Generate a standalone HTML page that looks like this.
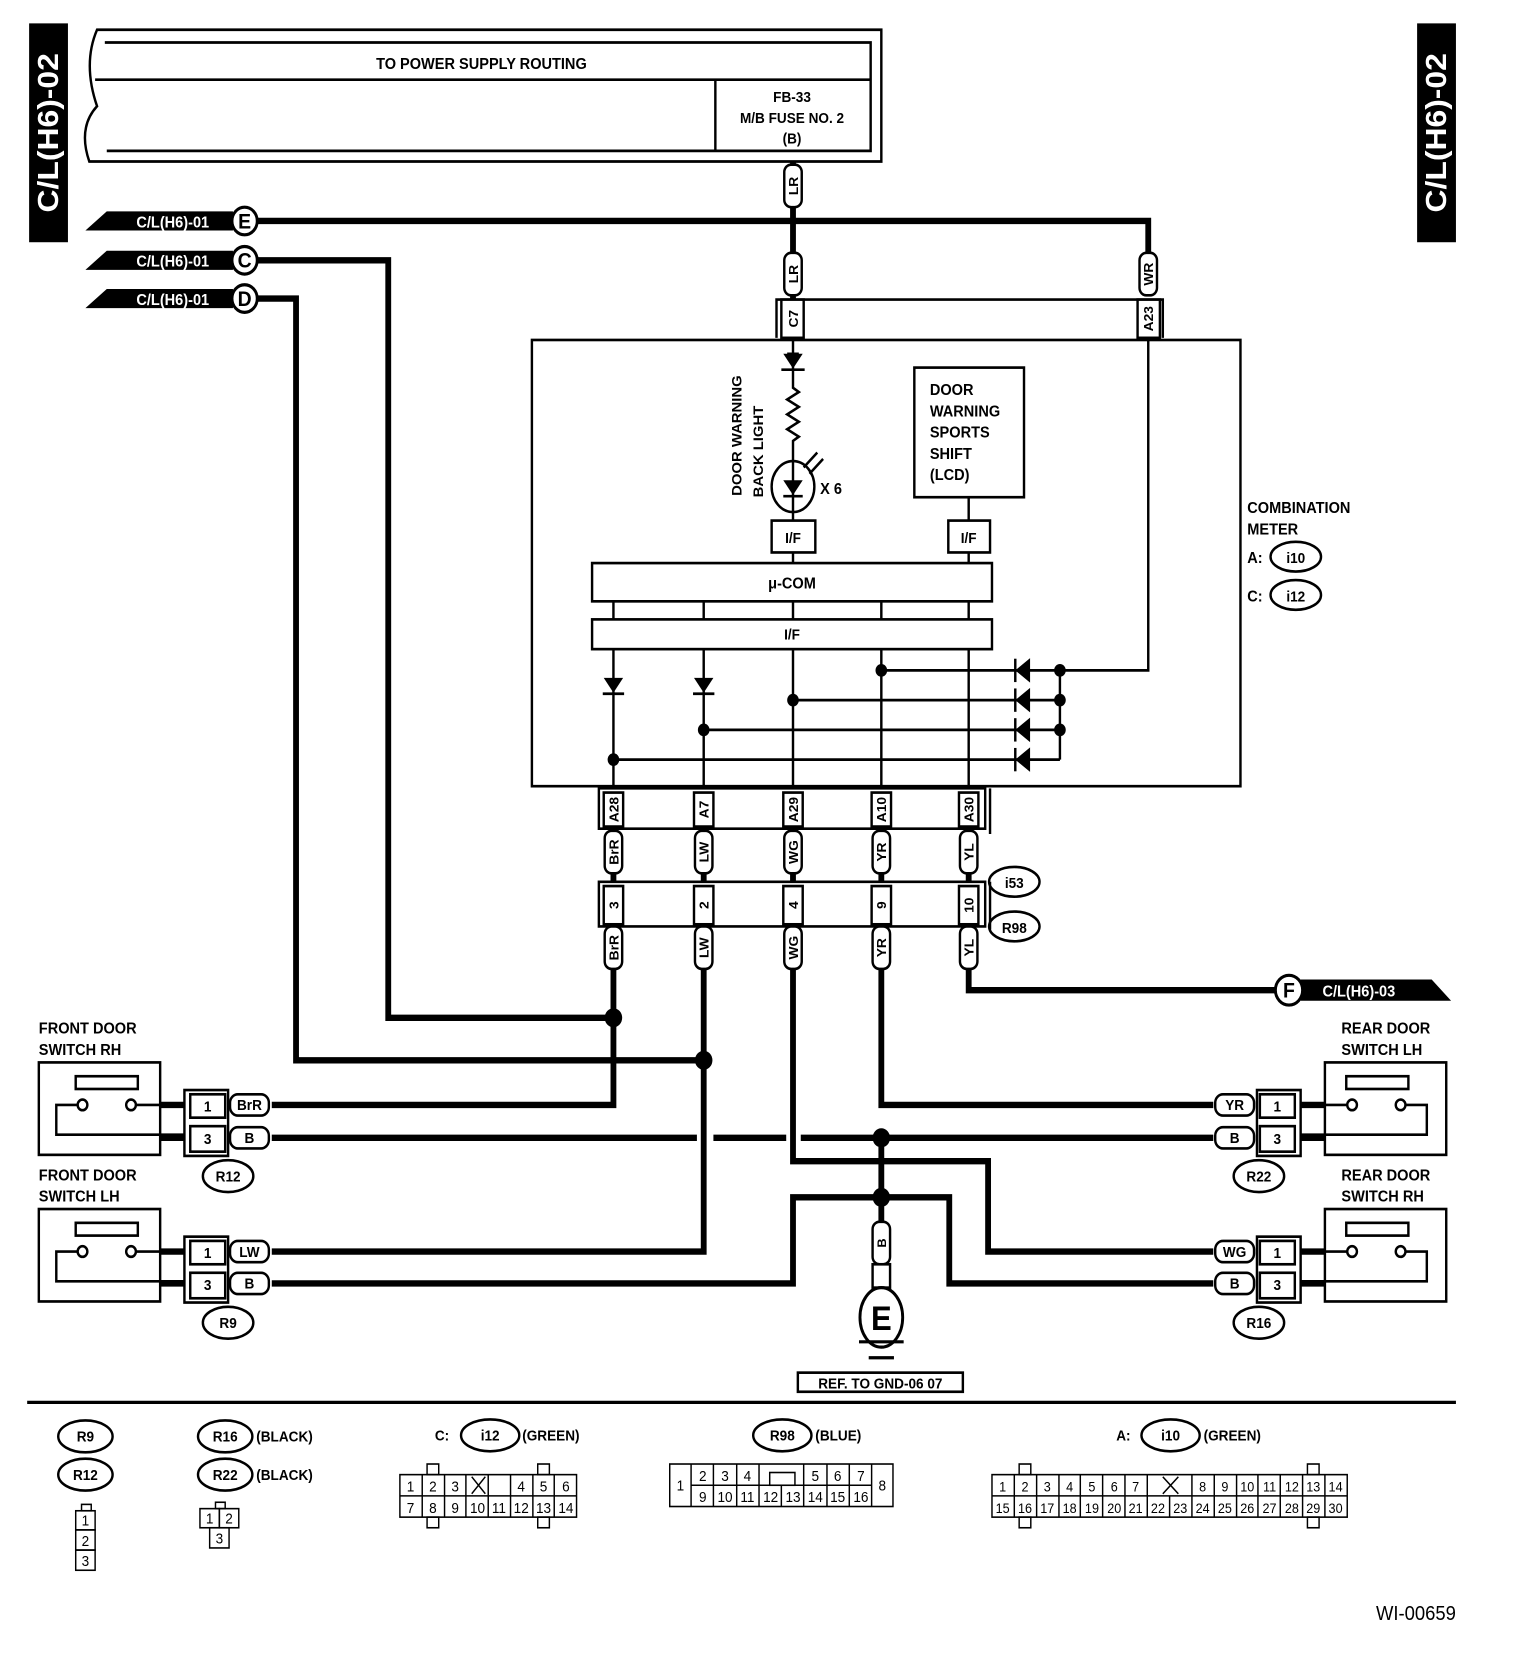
<!DOCTYPE html>
<html><head><meta charset="utf-8"><style>
html,body{margin:0;padding:0;background:#fff;}
svg{display:block;}
text{font-family:"Liberation Sans",Arial,sans-serif;font-weight:bold;fill:#000;}
</style></head><body>
<svg width="1520" height="1668" viewBox="0 0 1566 1570" preserveAspectRatio="none" xmlns="http://www.w3.org/2000/svg">
<defs>
<g id="vl"><rect x="-9" y="-20" width="18" height="40" rx="7" fill="#fff" stroke="#000" stroke-width="2.5"/></g>
<g id="hl"><rect x="-20" y="-10" width="40" height="20" rx="8" fill="#fff" stroke="#000" stroke-width="2.5"/></g>
</defs>
<rect x="30" y="22" width="40" height="206" fill="#000"/>
<text transform="translate(60,125) rotate(-90)" text-anchor="middle" font-size="30" style="fill:#fff">C/L(H6)-02</text>
<rect x="1460" y="22" width="40" height="206" fill="#000"/>
<text transform="translate(1490,125) rotate(-90)" text-anchor="middle" font-size="30" style="fill:#fff">C/L(H6)-02</text>

<g fill="none" stroke="#000" stroke-width="2.5">
<path d="M100,28 H908 V152 H92 Q80,120 100,100 Q85,60 100,28Z"/>
<path d="M108,40 H897 V142 H110"/>
<path d="M98,75 H897"/>
<path d="M737,75 V142"/>
</g>
<text x="496" y="65" text-anchor="middle" font-size="15">TO POWER SUPPLY ROUTING</text>
<text x="816" y="96" text-anchor="middle" font-size="14">FB-33</text>
<text x="816" y="116" text-anchor="middle" font-size="14">M/B FUSE NO. 2</text>
<text x="816" y="135" text-anchor="middle" font-size="14">(B)</text>

<g>
<polygon points="88,217 110,199 240,199 240,217" fill="#000"/>
<text x="178" y="214" text-anchor="middle" font-size="15" style="fill:#fff">C/L(H6)-01</text>
<circle cx="252" cy="208" r="13" fill="#fff" stroke="#000" stroke-width="3"/><text x="252" y="215" text-anchor="middle" font-size="20">E</text>
<polygon points="88,254 110,236 240,236 240,254" fill="#000"/>
<text x="178" y="251" text-anchor="middle" font-size="15" style="fill:#fff">C/L(H6)-01</text>
<circle cx="252" cy="245" r="13" fill="#fff" stroke="#000" stroke-width="3"/><text x="252" y="252" text-anchor="middle" font-size="20">C</text>
<polygon points="88,290 110,272 240,272 240,290" fill="#000"/>
<text x="178" y="287" text-anchor="middle" font-size="15" style="fill:#fff">C/L(H6)-01</text>
<circle cx="252" cy="281" r="13" fill="#fff" stroke="#000" stroke-width="3"/><text x="252" y="288" text-anchor="middle" font-size="20">D</text>
</g>

<g fill="none" stroke="#000" stroke-width="6" stroke-linejoin="miter">
<path d="M265,208 H1183 V245"/>
<path d="M817,152 V320"/>
<path d="M265,245 H400 V958 H632"/>
<path d="M265,281 H305 V998 H725"/>
<path d="M632,910 V1040 H280"/>
<path d="M725,910 V1178 H280"/>
<path d="M817,910 V1093 H1018 V1178 H1250"/>
<path d="M908,910 V1040 H1250"/>
<path d="M998,910 V932 H1315"/>
<path d="M280,1071 H718 M735,1071 H810 M825,1071 H1250"/>
<path d="M908,1071 V1127"/>
<path d="M908,1127 V1160"/>
<path d="M280,1208 H817 V1127 H978 V1208 H1250"/>
</g>
<g fill="#000">
<circle cx="632" cy="958" r="9"/><circle cx="725" cy="998" r="9"/>
<circle cx="908" cy="1071" r="9"/><circle cx="908" cy="1127" r="9"/>
</g>

<use href="#vl" x="817" y="175"/><text transform="translate(817,175) rotate(-90)" text-anchor="middle" dy="5" font-size="13">LR</text>
<use href="#vl" x="817" y="258"/><text transform="translate(817,258) rotate(-90)" text-anchor="middle" dy="5" font-size="13">LR</text>
<use href="#vl" x="1183" y="258"/><text transform="translate(1183,258) rotate(-90)" text-anchor="middle" dy="5" font-size="13">WR</text>

<g fill="none" stroke="#000" stroke-width="2.5">
<path d="M800,318 V282 H1198 V318"/>
<rect x="805" y="282" width="23" height="36" fill="#fff"/>
<rect x="1172" y="282" width="23" height="36" fill="#fff"/>
</g>
<text transform="translate(817,300) rotate(-90)" text-anchor="middle" dy="5" font-size="13">C7</text>
<text transform="translate(1183,300) rotate(-90)" text-anchor="middle" dy="5" font-size="13">A23</text>

<rect x="548" y="320" width="730" height="420" fill="none" stroke="#000" stroke-width="2.5"/>
<g fill="none" stroke="#000" stroke-width="2.5">
<path d="M817,320 V365 l6,4 -12,7 12,7 -12,7 12,7 -12,7 12,7 -6,4 V490"/>
<path d="M817,520 V530"/>
<rect x="795" y="490" width="45" height="30"/>
<rect x="942" y="346" width="113" height="122"/>
<path d="M998,468 V490 M998,520 V530"/>
<rect x="977" y="490" width="43" height="30"/>
<rect x="610" y="530" width="412" height="36"/>
<rect x="610" y="583" width="412" height="28"/>
<path d="M632,566 V583 M725,566 V583 M817,566 V583 M908,566 V583 M998,566 V583"/>
<path d="M632,611 V742 M725,611 V742 M817,611 V742 M908,611 V742 M998,611 V742"/>
<path d="M908,631 H1183 V318"/>
<path d="M817,659 H1092 M725,687 H1092 M632,715 H1092"/>
<path d="M1092,631 V715"/>
<ellipse cx="817" cy="458" rx="22" ry="24"/>
<path d="M828,440 l14,-14 M834,446 l14,-14"/>
<path d="M811,333 h12 M805,348 h24"/>
</g>
<polygon points="807,333 827,333 817,347" fill="#000"/>
<polygon points="807,452 827,452 817,466" fill="#000"/><path d="M807,467 H827" stroke="#000" stroke-width="2.5"/>
<polygon points="622,638 642,638 632,652" fill="#000"/><path d="M621,653 H643" stroke="#000" stroke-width="2.5"/>
<polygon points="715,638 735,638 725,652" fill="#000"/><path d="M714,653 H736" stroke="#000" stroke-width="2.5"/>
<g fill="#000" stroke="#000" stroke-width="2.5">
<polygon points="1048,631 1060,622 1060,640"/><path d="M1046,620 V642" fill="none"/>
<polygon points="1048,659 1060,650 1060,668"/><path d="M1046,648 V670" fill="none"/>
<polygon points="1048,687 1060,678 1060,696"/><path d="M1046,676 V698" fill="none"/>
<polygon points="1048,715 1060,706 1060,724"/><path d="M1046,704 V726" fill="none"/>
</g>
<g fill="#000">
<circle cx="908" cy="631" r="6"/><circle cx="817" cy="659" r="6"/><circle cx="725" cy="687" r="6"/><circle cx="632" cy="715" r="6"/>
<circle cx="1092" cy="631" r="6"/><circle cx="1092" cy="659" r="6"/><circle cx="1092" cy="687" r="6"/>
</g>
<text x="845" y="465" font-size="15">X 6</text>
<text transform="translate(764,410) rotate(-90)" text-anchor="middle" font-size="14">DOOR WARNING</text>
<text transform="translate(786,425) rotate(-90)" text-anchor="middle" font-size="14">BACK LIGHT</text>
<g font-size="15"><text x="958" y="372">DOOR</text><text x="958" y="392">WARNING</text><text x="958" y="412">SPORTS</text><text x="958" y="432">SHIFT</text><text x="958" y="452">(LCD)</text></g>
<text x="817" y="511" text-anchor="middle" font-size="14">I/F</text>
<text x="998" y="511" text-anchor="middle" font-size="14">I/F</text>
<text x="816" y="554" text-anchor="middle" font-size="15">μ-COM</text>
<text x="816" y="602" text-anchor="middle" font-size="14">I/F</text>
<text x="1285" y="483" font-size="15">COMBINATION</text>
<text x="1285" y="503" font-size="15">METER</text>
<text x="1285" y="530" font-size="15">A:</text>
<ellipse cx="1335" cy="524" rx="26" ry="14" fill="none" stroke="#000" stroke-width="2.5"/><text x="1335" y="530" text-anchor="middle" font-size="14">i10</text>
<text x="1285" y="566" font-size="15">C:</text>
<ellipse cx="1335" cy="560" rx="26" ry="14" fill="none" stroke="#000" stroke-width="2.5"/><text x="1335" y="566" text-anchor="middle" font-size="14">i12</text>

<g fill="none" stroke="#000" stroke-width="2.5">
<path d="M617,742 H1015 V780 H617Z M1020,742 V785"/>
<path d="M617,830 H1015 V872 H617Z M1020,830 V875"/>
</g>
<g stroke="#000" stroke-width="6"><path d="M632,780 V830 M725,780 V830 M817,780 V830 M908,780 V830 M998,780 V830 M632,872 V912 M725,872 V912 M817,872 V912 M908,872 V912 M998,872 V912"/></g>
<g fill="#fff" stroke="#000" stroke-width="2.5">
<rect x="622" y="746" width="20" height="32"/><rect x="715" y="746" width="20" height="32"/><rect x="807" y="746" width="20" height="32"/><rect x="898" y="746" width="20" height="32"/><rect x="988" y="746" width="20" height="32"/>
<rect x="622" y="834" width="20" height="36"/><rect x="715" y="834" width="20" height="36"/><rect x="807" y="834" width="20" height="36"/><rect x="898" y="834" width="20" height="36"/><rect x="988" y="834" width="20" height="36"/>
</g>
<g font-size="13">
<text transform="translate(632,762) rotate(-90)" text-anchor="middle" dy="5">A28</text>
<text transform="translate(725,762) rotate(-90)" text-anchor="middle" dy="5">A7</text>
<text transform="translate(817,762) rotate(-90)" text-anchor="middle" dy="5">A29</text>
<text transform="translate(908,762) rotate(-90)" text-anchor="middle" dy="5">A10</text>
<text transform="translate(998,762) rotate(-90)" text-anchor="middle" dy="5">A30</text>
<text transform="translate(632,852) rotate(-90)" text-anchor="middle" dy="5">3</text>
<text transform="translate(725,852) rotate(-90)" text-anchor="middle" dy="5">2</text>
<text transform="translate(817,852) rotate(-90)" text-anchor="middle" dy="5">4</text>
<text transform="translate(908,852) rotate(-90)" text-anchor="middle" dy="5">9</text>
<text transform="translate(998,852) rotate(-90)" text-anchor="middle" dy="5">10</text>
</g>
<use href="#vl" x="632" y="802"/><use href="#vl" x="725" y="802"/><use href="#vl" x="817" y="802"/><use href="#vl" x="908" y="802"/><use href="#vl" x="998" y="802"/>
<use href="#vl" x="632" y="892"/><use href="#vl" x="725" y="892"/><use href="#vl" x="817" y="892"/><use href="#vl" x="908" y="892"/><use href="#vl" x="998" y="892"/>
<g font-size="13">
<text transform="translate(632,802) rotate(-90)" text-anchor="middle" dy="5">BrR</text>
<text transform="translate(725,802) rotate(-90)" text-anchor="middle" dy="5">LW</text>
<text transform="translate(817,802) rotate(-90)" text-anchor="middle" dy="5">WG</text>
<text transform="translate(908,802) rotate(-90)" text-anchor="middle" dy="5">YR</text>
<text transform="translate(998,802) rotate(-90)" text-anchor="middle" dy="5">YL</text>
<text transform="translate(632,892) rotate(-90)" text-anchor="middle" dy="5">BrR</text>
<text transform="translate(725,892) rotate(-90)" text-anchor="middle" dy="5">LW</text>
<text transform="translate(817,892) rotate(-90)" text-anchor="middle" dy="5">WG</text>
<text transform="translate(908,892) rotate(-90)" text-anchor="middle" dy="5">YR</text>
<text transform="translate(998,892) rotate(-90)" text-anchor="middle" dy="5">YL</text>
</g>
<ellipse cx="1045" cy="830" rx="26" ry="14" fill="none" stroke="#000" stroke-width="2.5"/><text x="1045" y="836" text-anchor="middle" font-size="14">i53</text>
<ellipse cx="1045" cy="872" rx="26" ry="14" fill="none" stroke="#000" stroke-width="2.5"/><text x="1045" y="878" text-anchor="middle" font-size="14">R98</text>

<polygon points="1340,922 1475,922 1495,942 1340,942" fill="#000"/>
<text x="1400" y="938" text-anchor="middle" font-size="15" style="fill:#fff">C/L(H6)-03</text>
<circle cx="1328" cy="932" r="14" fill="#fff" stroke="#000" stroke-width="3"/><text x="1328" y="939" text-anchor="middle" font-size="20">F</text>

<g font-size="15">
<text x="40" y="973">FRONT DOOR</text><text x="40" y="993">SWITCH RH</text>
<text x="40" y="1111">FRONT DOOR</text><text x="40" y="1131">SWITCH LH</text>
<text x="1382" y="973">REAR DOOR</text><text x="1382" y="993">SWITCH LH</text>
<text x="1382" y="1111">REAR DOOR</text><text x="1382" y="1131">SWITCH RH</text>
</g>
<g fill="none" stroke="#000" stroke-width="2.5">
<rect x="40" y="1000" width="125" height="87"/><rect x="78" y="1013" width="64" height="12"/>
<circle cx="85" cy="1040" r="5"/><circle cx="135" cy="1040" r="5"/><path d="M80,1040 H58 V1068 H190 M140,1040 H190"/>
<rect x="40" y="1138" width="125" height="87"/><rect x="78" y="1151" width="64" height="12"/>
<circle cx="85" cy="1178" r="5"/><circle cx="135" cy="1178" r="5"/><path d="M80,1178 H58 V1206 H190 M140,1178 H190"/>
<rect x="1365" y="1000" width="125" height="87"/><rect x="1387" y="1013" width="64" height="12"/>
<circle cx="1393" cy="1040" r="5"/><circle cx="1443" cy="1040" r="5"/><path d="M1448,1040 H1470 V1068 H1340 M1388,1040 H1340"/>
<rect x="1365" y="1138" width="125" height="87"/><rect x="1387" y="1151" width="64" height="12"/>
<circle cx="1393" cy="1178" r="5"/><circle cx="1443" cy="1178" r="5"/><path d="M1448,1178 H1470 V1206 H1340 M1388,1178 H1340"/>
</g>
<g stroke="#000" stroke-width="6"><path d="M165,1040 H190 M165,1071 H190 M165,1178 H190 M165,1208 H190 M1340,1040 H1365 M1340,1071 H1365 M1340,1178 H1365 M1340,1208 H1365"/></g>
<g fill="#fff" stroke="#000" stroke-width="2.5">
<rect x="190" y="1026" width="45" height="62"/><rect x="196" y="1030" width="36" height="22"/><rect x="196" y="1060" width="36" height="24"/>
<rect x="190" y="1164" width="45" height="62"/><rect x="196" y="1168" width="36" height="22"/><rect x="196" y="1198" width="36" height="24"/>
<rect x="1295" y="1026" width="45" height="62"/><rect x="1298" y="1030" width="36" height="22"/><rect x="1298" y="1060" width="36" height="24"/>
<rect x="1295" y="1164" width="45" height="62"/><rect x="1298" y="1168" width="36" height="22"/><rect x="1298" y="1198" width="36" height="24"/>
</g>
<g font-size="14" text-anchor="middle">
<text x="214" y="1046">1</text><text x="214" y="1077">3</text><text x="214" y="1184">1</text><text x="214" y="1214">3</text>
<text x="1316" y="1046">1</text><text x="1316" y="1077">3</text><text x="1316" y="1184">1</text><text x="1316" y="1214">3</text>
</g>
<use href="#hl" x="257" y="1040"/><use href="#hl" x="257" y="1071"/><use href="#hl" x="257" y="1178"/><use href="#hl" x="257" y="1208"/>
<use href="#hl" x="1272" y="1040"/><use href="#hl" x="1272" y="1071"/><use href="#hl" x="1272" y="1178"/><use href="#hl" x="1272" y="1208"/>
<g font-size="14" text-anchor="middle">
<text x="257" y="1045">BrR</text><text x="257" y="1076">B</text><text x="257" y="1183">LW</text><text x="257" y="1213">B</text>
<text x="1272" y="1045">YR</text><text x="1272" y="1076">B</text><text x="1272" y="1183">WG</text><text x="1272" y="1213">B</text>
</g>
<g fill="none" stroke="#000" stroke-width="2.5">
<ellipse cx="235" cy="1107" rx="26" ry="15"/><ellipse cx="235" cy="1245" rx="26" ry="15"/>
<ellipse cx="1297" cy="1107" rx="26" ry="15"/><ellipse cx="1297" cy="1245" rx="26" ry="15"/>
</g>
<g font-size="14" text-anchor="middle">
<text x="235" y="1112">R12</text><text x="235" y="1250">R9</text><text x="1297" y="1112">R22</text><text x="1297" y="1250">R16</text>
</g>

<rect x="899" y="1150" width="18" height="40" rx="7" fill="#fff" stroke="#000" stroke-width="2.5"/>
<text transform="translate(908,1170) rotate(-90)" text-anchor="middle" dy="5" font-size="12">B</text>
<rect x="899" y="1190" width="18" height="22" fill="#fff" stroke="#000" stroke-width="2.5"/>
<ellipse cx="908" cy="1240" rx="22" ry="28" fill="#fff" stroke="#000" stroke-width="3"/>
<text x="908" y="1252" text-anchor="middle" font-size="32">E</text>
<path d="M885,1263 H931 M895,1278 H921 M900,1293 H916" stroke="#000" stroke-width="3"/>
<rect x="822" y="1292" width="170" height="18" fill="#fff" stroke="#000" stroke-width="2.5"/>
<text x="907" y="1307" text-anchor="middle" font-size="14">REF. TO GND-06 07</text>

<path d="M28,1320 H1500" stroke="#000" stroke-width="3"/>

<g fill="none" stroke="#000" stroke-width="2.5">
<ellipse cx="88" cy="1352" rx="28" ry="15"/><ellipse cx="88" cy="1388" rx="28" ry="15"/>
<ellipse cx="232" cy="1352" rx="28" ry="15"/><ellipse cx="232" cy="1388" rx="28" ry="15"/>
<ellipse cx="505" cy="1351" rx="30" ry="15"/><ellipse cx="806" cy="1351" rx="30" ry="15"/><ellipse cx="1206" cy="1351" rx="30" ry="15"/>
</g>
<g font-size="14">
<text x="88" y="1357" text-anchor="middle">R9</text><text x="88" y="1393" text-anchor="middle">R12</text>
<text x="232" y="1357" text-anchor="middle">R16</text><text x="232" y="1393" text-anchor="middle">R22</text>
<text x="264" y="1357">(BLACK)</text><text x="264" y="1393">(BLACK)</text>
<text x="448" y="1356">C:</text><text x="505" y="1356" text-anchor="middle">i12</text><text x="538" y="1356">(GREEN)</text>
<text x="806" y="1356" text-anchor="middle">R98</text><text x="840" y="1356">(BLUE)</text>
<text x="1150" y="1356">A:</text><text x="1206" y="1356" text-anchor="middle">i10</text><text x="1240" y="1356">(GREEN)</text>
</g>
<g fill="none" stroke="#000" stroke-width="1.5">
<rect x="84" y="1416" width="10" height="6"/>
<rect x="78" y="1422" width="20" height="18"/><rect x="78" y="1440" width="20" height="19"/><rect x="78" y="1459" width="20" height="19"/>
<rect x="222" y="1414" width="10" height="6"/>
<rect x="206" y="1420" width="20" height="18"/><rect x="226" y="1420" width="20" height="18"/><rect x="216" y="1438" width="20" height="19"/>
</g>
<g font-size="14" text-anchor="middle">
<text x="88" y="1436" style="font-weight:normal">1</text><text x="88" y="1455" style="font-weight:normal">2</text><text x="88" y="1474" style="font-weight:normal">3</text>
<text x="216" y="1434" style="font-weight:normal">1</text><text x="236" y="1434" style="font-weight:normal">2</text><text x="226" y="1453" style="font-weight:normal">3</text>
</g>

<g fill="none" stroke="#000" stroke-width="1.5">
<rect x="412" y="1388" width="182" height="40"/>
<path d="M412,1408 H594"/>
<path d="M435,1388 V1428 M458,1388 V1428 M480,1408 V1428 M503,1408 V1428 M526,1388 V1428 M549,1388 V1428 M571,1388 V1428"/>
<path d="M480,1388 V1408 M503,1388 V1408"/>
<path d="M486,1390 l14,16 M500,1390 l-14,16"/>
<rect x="440" y="1378" width="12" height="10"/><rect x="440" y="1428" width="12" height="10"/>
<rect x="554" y="1378" width="12" height="10"/><rect x="554" y="1428" width="12" height="10"/>
</g>
<g font-size="14" text-anchor="middle">
<text x="423" y="1404" style="font-weight:normal">1</text><text x="446" y="1404" style="font-weight:normal">2</text><text x="469" y="1404" style="font-weight:normal">3</text>
<text x="537" y="1404" style="font-weight:normal">4</text><text x="560" y="1404" style="font-weight:normal">5</text><text x="583" y="1404" style="font-weight:normal">6</text>
<text x="423" y="1424" style="font-weight:normal">7</text><text x="446" y="1424" style="font-weight:normal">8</text><text x="469" y="1424" style="font-weight:normal">9</text><text x="492" y="1424" style="font-weight:normal">10</text><text x="514" y="1424" style="font-weight:normal">11</text><text x="537" y="1424" style="font-weight:normal">12</text><text x="560" y="1424" style="font-weight:normal">13</text><text x="583" y="1424" style="font-weight:normal">14</text>
</g>

<g fill="none" stroke="#000" stroke-width="1.5">
<rect x="690" y="1378" width="230" height="40"/>
<path d="M712,1378 V1418 M898,1378 V1418 M712,1398 H898"/>
<path d="M735,1378 V1418 M759,1378 V1418 M782,1378 V1418 M805,1398 V1418 M828,1378 V1418 M852,1378 V1418 M875,1378 V1418"/>
<rect x="793" y="1386" width="26" height="12"/>
</g>
<g font-size="14" text-anchor="middle">
<text x="701" y="1403" style="font-weight:normal">1</text><text x="909" y="1403" style="font-weight:normal">8</text>
<text x="724" y="1394" style="font-weight:normal">2</text><text x="747" y="1394" style="font-weight:normal">3</text><text x="770" y="1394" style="font-weight:normal">4</text>
<text x="840" y="1394" style="font-weight:normal">5</text><text x="863" y="1394" style="font-weight:normal">6</text><text x="887" y="1394" style="font-weight:normal">7</text>
<text x="724" y="1414" style="font-weight:normal">9</text><text x="747" y="1414" style="font-weight:normal">10</text><text x="770" y="1414" style="font-weight:normal">11</text><text x="794" y="1414" style="font-weight:normal">12</text><text x="817" y="1414" style="font-weight:normal">13</text><text x="840" y="1414" style="font-weight:normal">14</text><text x="863" y="1414" style="font-weight:normal">15</text><text x="887" y="1414" style="font-weight:normal">16</text>
</g>

<g fill="none" stroke="#000" stroke-width="1.5">
<rect x="1022" y="1388" width="366" height="40"/>
<path d="M1022,1408 H1388"/>
<path d="M1045,1388 V1428 M1068,1388 V1428 M1091,1388 V1428 M1113,1388 V1428 M1136,1388 V1428 M1159,1388 V1428 M1182,1388 V1428 M1205,1408 V1428 M1228,1388 V1428 M1251,1388 V1428 M1274,1388 V1428 M1296,1388 V1428 M1319,1388 V1428 M1342,1388 V1428 M1365,1388 V1428"/>
<path d="M1198,1390 l16,16 M1214,1390 l-16,16"/>
<rect x="1050" y="1378" width="12" height="10"/><rect x="1050" y="1428" width="12" height="10"/>
<rect x="1347" y="1378" width="12" height="10"/><rect x="1347" y="1428" width="12" height="10"/>
</g>
<g font-size="13" text-anchor="middle">
<text x="1033" y="1404" style="font-weight:normal">1</text><text x="1056" y="1404" style="font-weight:normal">2</text><text x="1079" y="1404" style="font-weight:normal">3</text><text x="1102" y="1404" style="font-weight:normal">4</text><text x="1125" y="1404" style="font-weight:normal">5</text><text x="1148" y="1404" style="font-weight:normal">6</text><text x="1170" y="1404" style="font-weight:normal">7</text>
<text x="1239" y="1404" style="font-weight:normal">8</text><text x="1262" y="1404" style="font-weight:normal">9</text><text x="1285" y="1404" style="font-weight:normal">10</text><text x="1308" y="1404" style="font-weight:normal">11</text><text x="1331" y="1404" style="font-weight:normal">12</text><text x="1353" y="1404" style="font-weight:normal">13</text><text x="1376" y="1404" style="font-weight:normal">14</text>
<text x="1033" y="1424" style="font-weight:normal">15</text><text x="1056" y="1424" style="font-weight:normal">16</text><text x="1079" y="1424" style="font-weight:normal">17</text><text x="1102" y="1424" style="font-weight:normal">18</text><text x="1125" y="1424" style="font-weight:normal">19</text><text x="1148" y="1424" style="font-weight:normal">20</text><text x="1170" y="1424" style="font-weight:normal">21</text><text x="1193" y="1424" style="font-weight:normal">22</text><text x="1216" y="1424" style="font-weight:normal">23</text><text x="1239" y="1424" style="font-weight:normal">24</text><text x="1262" y="1424" style="font-weight:normal">25</text><text x="1285" y="1424" style="font-weight:normal">26</text><text x="1308" y="1424" style="font-weight:normal">27</text><text x="1331" y="1424" style="font-weight:normal">28</text><text x="1353" y="1424" style="font-weight:normal">29</text><text x="1376" y="1424" style="font-weight:normal">30</text>
</g>

<text x="1500" y="1525" text-anchor="end" font-size="19" style="font-weight:normal">WI-00659</text>
</svg>
</body></html>
